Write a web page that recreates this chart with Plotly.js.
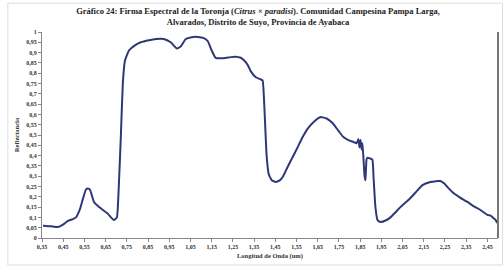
<!DOCTYPE html>
<html>
<head>
<meta charset="utf-8">
<script src="https://cdn.plot.ly/plotly-3.0.1.min.js"></script>
<style>html,body{margin:0;padding:0;background:#fff;}#chart{width:504px;height:273px;}</style>
</head>
<body>
<div id="chart"></div>
<script>
const wavelength = [0.355,0.392,0.425,0.449,0.472,0.496,0.510,0.529,0.543,0.557,0.567,0.576,0.595,0.614,0.637,0.661,0.675,0.689,0.703,0.712,0.722,0.731,0.741,0.760,0.788,0.816,0.854,0.887,0.924,0.957,0.986,1.004,1.028,1.056,1.084,1.113,1.132,1.150,1.169,1.193,1.216,1.240,1.263,1.287,1.301,1.320,1.334,1.358,1.381,1.390,1.400,1.409,1.419,1.433,1.452,1.471,1.485,1.508,1.532,1.555,1.579,1.602,1.631,1.664,1.692,1.720,1.748,1.771,1.795,1.819,1.833,1.842,1.847,1.852,1.857,1.861,1.866,1.871,1.875,1.880,1.885,1.899,1.908,1.913,1.922,1.932,1.946,1.970,1.993,2.017,2.040,2.064,2.087,2.115,2.144,2.181,2.210,2.228,2.247,2.261,2.290,2.323,2.356,2.384,2.417,2.450,2.464,2.478,2.487,2.497];
const reflectance = [0.060,0.057,0.053,0.065,0.083,0.092,0.100,0.140,0.190,0.235,0.240,0.235,0.175,0.155,0.136,0.117,0.100,0.087,0.100,0.250,0.500,0.750,0.860,0.910,0.935,0.950,0.960,0.966,0.966,0.950,0.920,0.930,0.966,0.975,0.976,0.970,0.955,0.910,0.874,0.872,0.874,0.878,0.880,0.875,0.864,0.840,0.810,0.780,0.770,0.765,0.600,0.400,0.310,0.280,0.272,0.280,0.296,0.345,0.393,0.440,0.490,0.530,0.563,0.587,0.580,0.558,0.520,0.490,0.475,0.466,0.460,0.480,0.440,0.476,0.430,0.460,0.380,0.300,0.280,0.380,0.390,0.385,0.380,0.300,0.150,0.087,0.078,0.085,0.100,0.125,0.150,0.172,0.194,0.225,0.257,0.272,0.276,0.277,0.265,0.248,0.218,0.195,0.175,0.155,0.136,0.112,0.110,0.097,0.090,0.073];

const xTickVals = [0.35,0.45,0.55,0.65,0.75,0.85,0.95,1.05,1.15,1.25,1.35,1.45,1.55,1.65,1.75,1.85,1.95,2.05,2.15,2.25,2.35,2.45];
const xTickText = ["0,35","0,45","0,55","0,65","0,75","0,85","0,95","1,05","1,15","1,25","1,35","1,45","1,55","1,65","1,75","1,85","1,95","2,05","2,15","2,25","2,35","2,45"];
const yTickVals = [0,0.05,0.1,0.15,0.2,0.25,0.3,0.35,0.4,0.45,0.5,0.55,0.6,0.65,0.7,0.75,0.8,0.85,0.9,0.95,1];
const yTickText = ["0","0,05","0,1","0,15","0,2","0,25","0,3","0,35","0,4","0,45","0,5","0,55","0,6","0,65","0,7","0,75","0,8","0,85","0,9","0,95","1"];

const tickFont = {family: "Liberation Serif", size: 6, color: "#333", weight: "bold"};

Plotly.newPlot("chart", [{
  x: wavelength, y: reflectance, type: "scatter", mode: "lines",
  line: {color: "#2f3877", width: 2, shape: "spline", smoothing: 0.4},
  hoverinfo: "skip"
}], {
  width: 504, height: 273,
  margin: {l: 42, r: 6, t: 32, b: 35},
  paper_bgcolor: "#fff", plot_bgcolor: "#fff",
  showlegend: false,
  title: {
    text: "<b>Gráfico 24: Firma Espectral de la Toronja (<i>Citrus × paradisi</i>). Comunidad Campesina Pampa Larga,<br>Alvarados, Distrito de Suyo, Provincia de Ayabaca</b>",
    font: {family: "Liberation Serif", size: 8.5, color: "#222"},
    x: 0.512, xref: "container", xanchor: "center",
    y: 0.95, yref: "container", yanchor: "top"
  },
  xaxis: {
    range: [0.35, 2.5], tickvals: xTickVals, ticktext: xTickText,
    tickfont: tickFont, ticks: "outside", ticklen: 3, tickcolor: "#888",
    showline: true, linecolor: "#888", linewidth: 1, showgrid: false, zeroline: false,
    title: {text: "<b>Longitud de Onda (um)</b>", font: {family: "Liberation Serif", size: 6.5, color: "#333"}, standoff: 4}
  },
  yaxis: {
    range: [0, 1], tickvals: yTickVals, ticktext: yTickText,
    tickfont: tickFont, ticks: "outside", ticklen: 3, tickcolor: "#888",
    showline: true, linecolor: "#888", linewidth: 1, showgrid: false, zeroline: false,
    title: {text: "<b>Reflectancia</b>", font: {family: "Liberation Serif", size: 6.5, color: "#333"}, standoff: 6}
  },
  shapes: [
    {type: "line", xref: "paper", yref: "paper", x0: 1, x1: 1, y0: 0, y1: 1, line: {color: "#777", width: 2}},
    {type: "rect", xref: "paper", yref: "paper", x0: -0.075, x1: 1.01, y0: -0.131, y1: 1.14, line: {color: "#ddd", width: 1}}
  ]
}, {displayModeBar: false, staticPlot: true});
</script>
</body>
</html>
